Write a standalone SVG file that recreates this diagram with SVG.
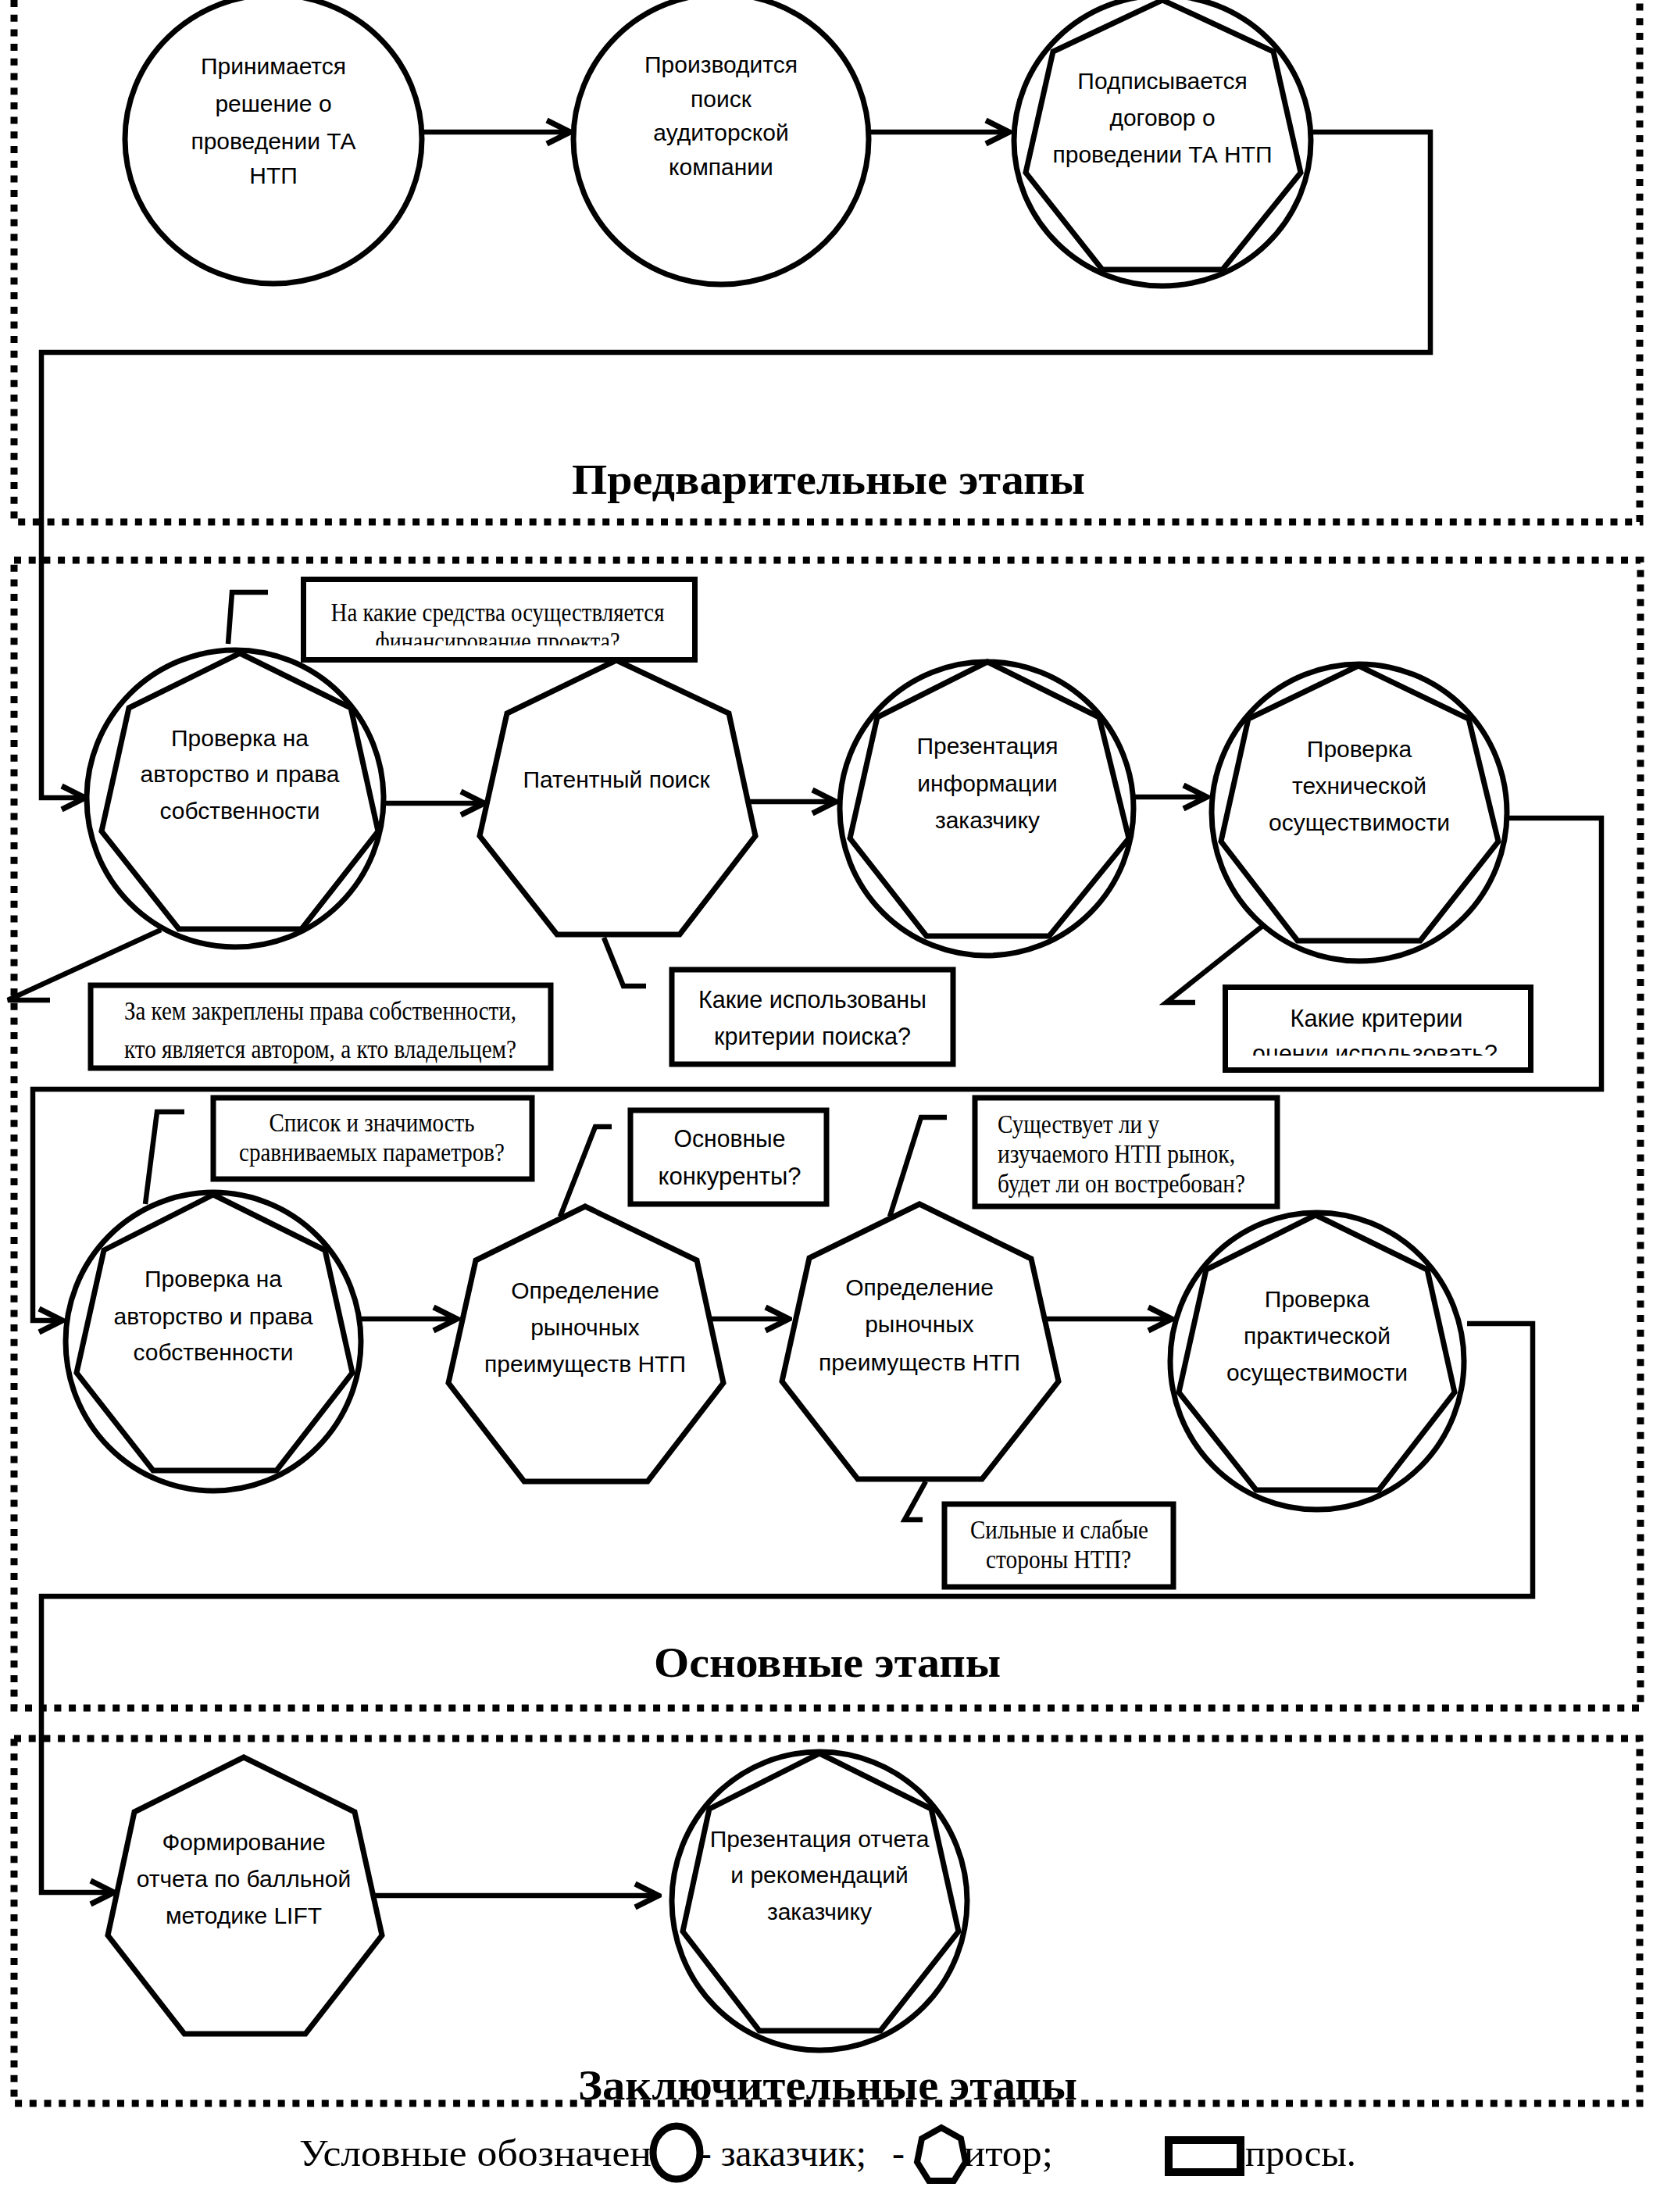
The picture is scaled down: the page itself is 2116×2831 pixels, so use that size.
<svg xmlns="http://www.w3.org/2000/svg" width="2116" height="2831" viewBox="0 0 2116 2831">
<style>
.sh{fill:none;stroke:#000;stroke-width:7;stroke-linejoin:miter}
.el{fill:#fff;stroke:#000;stroke-width:7}
.cn{fill:none;stroke:#000;stroke-width:6.5;marker-end:url(#arr)}
.ln{fill:none;stroke:#000;stroke-width:6.5}
.bx{fill:#fff;stroke:#000;stroke-width:7}
.dt{fill:none;stroke:#000;stroke-width:9;stroke-dasharray:9 9.7}
.t{font-family:"Liberation Sans",Arial,sans-serif;font-size:30px;fill:#000;text-anchor:middle}
.q{font-family:"Liberation Sans",Arial,sans-serif;font-size:32px;fill:#000;text-anchor:middle}
.s{font-family:"Liberation Serif","Times New Roman",serif;font-size:34px;fill:#000;text-anchor:middle}
.h{font-family:"Liberation Serif","Times New Roman",serif;font-size:55px;font-weight:bold;fill:#000}
.lg{font-family:"Liberation Serif","Times New Roman",serif;font-size:48px;fill:#000}
</style>
<defs>
<marker id="arr" markerUnits="userSpaceOnUse" viewBox="-36 -20 40 40" markerWidth="40" markerHeight="40" refX="0" refY="0" orient="auto">
<path d="M-30,-15 L0,0 L-30,15" fill="none" stroke="#000" stroke-width="7"/>
</marker>
<clipPath id="c1"><rect x="390" y="745" width="500" height="81"/></clipPath>
<clipPath id="c4"><rect x="1568" y="1264" width="390" height="87"/></clipPath>
</defs>
<rect width="2116" height="2831" fill="#fff"/>

<g id="sections">
<path class="dt" d="M18,0 V668 H2099 V0"/>
<path class="dt" d="M18,717 H2100 V2186 H18 Z"/>
<path class="dt" d="M18,2225 H2099 V2692 H18 Z"/>
<text class="h" x="732" y="632" textLength="657" lengthAdjust="spacingAndGlyphs">Предварительные этапы</text>
<text class="h" x="837" y="2146" textLength="444" lengthAdjust="spacingAndGlyphs">Основные этапы</text>
<text class="h" x="740" y="2687" textLength="639" lengthAdjust="spacingAndGlyphs">Заключительные этапы</text>
</g>

<g id="connectors">
<path class="cn" d="M540,169 H730"/>
<path class="cn" d="M1112,169 H1292"/>
<path class="cn" d="M1677,169 H1831 V451 H53 V1021 H109"/>
<path class="cn" d="M491,1028 H620"/>
<path class="cn" d="M958,1026 H1070"/>
<path class="cn" d="M1451,1020 H1545"/>
<path class="cn" d="M1928,1047 H2050 V1394 H42 V1690 H80"/>
<path class="cn" d="M462,1688 H585"/>
<path class="cn" d="M911,1688 H1010"/>
<path class="cn" d="M1338,1688 H1500"/>
<path class="cn" d="M1878,1694 H1962 V2043 H53 V2422 H146"/>
<path class="cn" d="M480,2426 H843"/>
<polyline class="ln" points="292,824 297,758 343,758"/>
<polyline class="ln" points="206,1190 10,1280 64,1280"/>
<polyline class="ln" points="773,1200 798,1262 827,1262"/>
<polyline class="ln" points="1615,1186 1493,1283 1530,1283"/>
<polyline class="ln" points="186,1541 201,1423 236,1423"/>
<polyline class="ln" points="717,1557 762,1442 783,1442"/>
<polyline class="ln" points="1139,1557 1179,1430 1212,1430"/>
<polyline class="ln" points="1185,1896 1158,1945 1181,1945"/>
</g>

<g id="n1">
<ellipse class="el" cx="350" cy="178" rx="190" ry="185"/>
<text class="t" x="350" y="95">Принимается</text>
<text class="t" x="350" y="143">решение о</text>
<text class="t" x="350" y="191">проведении ТА</text>
<text class="t" x="350" y="235">НТП</text>
</g>
<g id="n2">
<ellipse class="el" cx="923" cy="178" rx="189" ry="186"/>
<text class="t" x="923" y="93">Производится</text>
<text class="t" x="923" y="137">поиск</text>
<text class="t" x="923" y="180">аудиторской</text>
<text class="t" x="923" y="224">компании</text>
</g>
<g id="n3">
<ellipse class="el" cx="1488" cy="180" rx="190" ry="186"/>
<polygon class="sh" points="1488,0 1630,66 1665,221 1565,345 1411,345 1313,221 1348,66"/>
<text class="t" x="1488" y="114">Подписывается</text>
<text class="t" x="1488" y="161">договор о</text>
<text class="t" x="1488" y="208">проведении ТА НТП</text>
</g>

<g id="n4">
<ellipse class="el" cx="301" cy="1022" rx="190" ry="190"/>
<polygon class="sh" points="307,836 449,906 484,1064 386,1189 229,1189 130,1064 165,906"/>
<text class="t" x="307" y="955">Проверка на</text>
<text class="t" x="307" y="1001">авторство и права</text>
<text class="t" x="307" y="1048">собственности</text>
</g>
<g id="n5">
<polygon class="sh" points="789,845 933,913 967,1070 870,1196 713,1196 614,1070 649,913" fill="#fff"/>
<text class="t" x="789" y="1008">Патентный поиск</text>
</g>
<g id="n6">
<ellipse class="el" cx="1263" cy="1035" rx="188" ry="188"/>
<polygon class="sh" points="1264,847 1407,918 1445,1073 1343,1198 1186,1198 1088,1073 1123,918"/>
<text class="t" x="1264" y="965">Презентация</text>
<text class="t" x="1264" y="1013">информации</text>
<text class="t" x="1264" y="1060">заказчику</text>
</g>
<g id="n7">
<ellipse class="el" cx="1740" cy="1040" rx="189" ry="190"/>
<polygon class="sh" points="1739,852 1880,920 1918,1077 1818,1204 1661,1204 1563,1077 1598,920"/>
<text class="t" x="1740" y="969">Проверка</text>
<text class="t" x="1740" y="1016">технической</text>
<text class="t" x="1740" y="1063">осуществимости</text>
</g>

<g id="q1">
<rect class="bx" x="388.5" y="741.5" width="501" height="103"/>
<text class="s" x="637" y="795" textLength="427" lengthAdjust="spacingAndGlyphs">На какие средства осуществляется</text>
<text class="s" x="637" y="832" textLength="313" lengthAdjust="spacingAndGlyphs" clip-path="url(#c1)">финансирование проекта?</text>
</g>
<g id="q2">
<rect class="bx" x="116" y="1261" width="589" height="106"/>
<text class="s" x="410" y="1305" textLength="502" lengthAdjust="spacingAndGlyphs">За кем закреплены права собственности,</text>
<text class="s" x="410" y="1354" textLength="502" lengthAdjust="spacingAndGlyphs">кто является автором, а кто владельцем?</text>
</g>
<g id="q3">
<rect class="bx" x="860" y="1241" width="360" height="121"/>
<text class="q" x="1040" y="1290" textLength="292" lengthAdjust="spacingAndGlyphs">Какие использованы</text>
<text class="q" x="1040" y="1337" textLength="252" lengthAdjust="spacingAndGlyphs">критерии поиска?</text>
</g>
<g id="q4">
<rect class="bx" x="1568.5" y="1263.5" width="391" height="106"/>
<text class="q" x="1762" y="1314" textLength="221" lengthAdjust="spacingAndGlyphs">Какие критерии</text>
<text class="q" x="1760" y="1359" textLength="314" lengthAdjust="spacingAndGlyphs" clip-path="url(#c4)">оценки использовать?</text>
</g>

<g id="n8">
<ellipse class="el" cx="273" cy="1717" rx="189" ry="191"/>
<polygon class="sh" points="273,1529 416,1600 451,1757 354,1882 196,1882 98,1757 133,1600"/>
<text class="t" x="273" y="1647">Проверка на</text>
<text class="t" x="273" y="1695">авторство и права</text>
<text class="t" x="273" y="1741">собственности</text>
</g>
<g id="n9">
<polygon class="sh" points="749,1544 892,1613 926,1770 829,1896 671,1896 574,1770 609,1613" fill="#fff"/>
<text class="t" x="749" y="1662">Определение</text>
<text class="t" x="749" y="1709">рыночных</text>
<text class="t" x="749" y="1756">преимуществ НТП</text>
</g>
<g id="n10">
<polygon class="sh" points="1177,1541 1320,1611 1355,1768 1257,1893 1098,1893 1001,1768 1036,1610" fill="#fff"/>
<text class="t" x="1177" y="1658">Определение</text>
<text class="t" x="1177" y="1705">рыночных</text>
<text class="t" x="1177" y="1754">преимуществ НТП</text>
</g>
<g id="n11">
<ellipse class="el" cx="1686" cy="1742" rx="188" ry="190"/>
<polygon class="sh" points="1684,1555 1827,1625 1862,1782 1765,1907 1608,1907 1509,1782 1544,1625"/>
<text class="t" x="1686" y="1673">Проверка</text>
<text class="t" x="1686" y="1720">практической</text>
<text class="t" x="1686" y="1767">осуществимости</text>
</g>

<g id="q5">
<rect class="bx" x="273" y="1405" width="408" height="104"/>
<text class="s" x="476" y="1448" textLength="263" lengthAdjust="spacingAndGlyphs">Список и значимость</text>
<text class="s" x="476" y="1486" textLength="340" lengthAdjust="spacingAndGlyphs">сравниваемых параметров?</text>
</g>
<g id="q6">
<rect class="bx" x="807" y="1421" width="251" height="120"/>
<text class="q" x="934" y="1468" textLength="143" lengthAdjust="spacingAndGlyphs">Основные</text>
<text class="q" x="934" y="1516" textLength="183" lengthAdjust="spacingAndGlyphs">конкуренты?</text>
</g>
<g id="q7">
<rect class="bx" x="1248" y="1405" width="387" height="139"/>
<text class="s" x="1277" y="1450" style="text-anchor:start" textLength="207" lengthAdjust="spacingAndGlyphs">Существует ли у</text>
<text class="s" x="1277" y="1488" style="text-anchor:start" textLength="304" lengthAdjust="spacingAndGlyphs">изучаемого НТП рынок,</text>
<text class="s" x="1277" y="1526" style="text-anchor:start" textLength="317" lengthAdjust="spacingAndGlyphs">будет ли он востребован?</text>
</g>
<g id="q8">
<rect class="bx" x="1209" y="1925" width="293" height="106"/>
<text class="s" x="1356" y="1969" textLength="228" lengthAdjust="spacingAndGlyphs">Сильные и слабые</text>
<text class="s" x="1355" y="2007" textLength="186" lengthAdjust="spacingAndGlyphs">стороны НТП?</text>
</g>

<g id="n12">
<polygon class="sh" points="312,2249 454,2319 489,2477 391,2603 236,2603 138,2477 172,2319" fill="#fff"/>
<text class="t" x="312" y="2368">Формирование</text>
<text class="t" x="312" y="2415">отчета по балльной</text>
<text class="t" x="312" y="2462">методике LIFT</text>
</g>
<g id="n13">
<ellipse class="el" cx="1049" cy="2433" rx="189" ry="191"/>
<polygon class="sh" points="1049,2244 1192,2315 1227,2472 1127,2599 972,2599 874,2472 908,2315"/>
<text class="t" x="1049" y="2364">Презентация отчета</text>
<text class="t" x="1049" y="2410">и рекомендаций</text>
<text class="t" x="1049" y="2457">заказчику</text>
</g>

<g id="legend">
<text class="lg" x="383" y="2772" textLength="451" lengthAdjust="spacingAndGlyphs">Условные обозначен</text>
<text class="lg" x="895" y="2772" textLength="214" lengthAdjust="spacingAndGlyphs">- заказчик;</text>
<text class="lg" x="1142" y="2772">-</text>
<text class="lg" x="1234" y="2772" textLength="114" lengthAdjust="spacingAndGlyphs">итор;</text>
<text class="lg" x="1594" y="2772" textLength="142" lengthAdjust="spacingAndGlyphs">просы.</text>
<ellipse cx="866" cy="2755" rx="30" ry="34" fill="#fff" stroke="#000" stroke-width="9"/>
<polygon points="1205,2723 1230,2737 1236,2767 1221,2791 1189,2791 1174,2767 1180,2737" fill="#fff" stroke="#000" stroke-width="8"/>
<rect x="1496" y="2739" width="92" height="41" fill="#fff" stroke="#000" stroke-width="10"/>
</g>
</svg>
